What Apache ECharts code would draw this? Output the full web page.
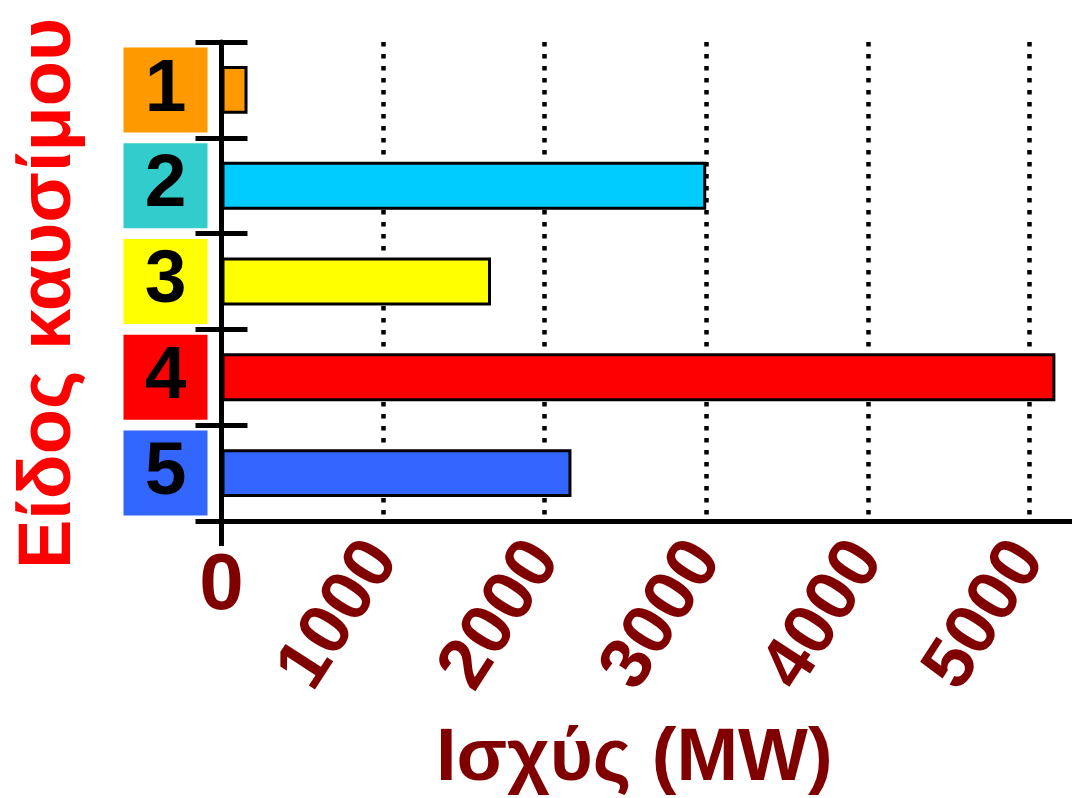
<!DOCTYPE html>
<html>
<head>
<meta charset="utf-8">
<script src="https://cdn.jsdelivr.net/npm/echarts@6/dist/echarts.min.js"></script>
<style>
  html, body { margin: 0; padding: 0; background: #fff; }
  #chart { width: 1072px; height: 798px; }
</style>
</head>
<body>
<div id="chart"></div>
<script>
// data
const categories = ['1', '2', '3', '4', '5'];
const values = [161, 3000, 1668, 5161, 2166];
const barColors = ['#FF9900', '#00CCFF', '#FFFF00', '#FF0000', '#3366FF'];
const labelColors = ['#FF9900', '#33CCCC', '#FFFF00', '#FF0000', '#3366FF'];
const xMax = 5400;

const font = 'Liberation Sans, Arial, sans-serif';
const darkRed = '#800000';

// one rich style per category box
const rich = {};
labelColors.forEach((c, i) => {
  rich['b' + i] = {
    backgroundColor: c,
    width: 84,
    height: 85,
    lineHeight: 85,
    align: 'center',
    color: '#000',
    fontSize: 75,
    fontWeight: 'bold',
    fontFamily: font
  };
});

const chart = echarts.init(document.getElementById('chart'));

chart.setOption({
  animation: false,
  grid: {
    left: 221.5, right: -22, top: 42, bottom: 277,
    containLabel: false,
    outerBoundsMode: 'none'
  },
  xAxis: [
    {
      type: 'value',
      min: 0,
      max: xMax,
      interval: 1000,
      position: 'bottom',
      name: 'Ισχύς (MW)',
      nameLocation: 'middle',
      nameGap: 202,
      nameTextStyle: {
        color: darkRed, fontSize: 74, fontWeight: 'bold', fontFamily: font,
        padding: [0, 47, 0, 0]
      },
      axisLine: { show: true, lineStyle: { color: '#000', width: 5 } },
      axisTick: { show: false },
      axisLabel: {
        rotate: 57,
        margin: 27,
        color: darkRed,
        fontSize: 72,
        fontWeight: 'bold',
        fontFamily: font,
        formatter: v => (v > 0 && v % 1000 === 0 ? String(v) : '')
      },
      splitLine: {
        show: true,
        lineStyle: { color: '#000', width: 4.5, type: [4.5, 7.5] }
      }
    },
    {
      // only the zero tick (continues the y axis line) and the upright "0"
      type: 'value',
      min: 0,
      max: xMax,
      interval: 10000,
      position: 'bottom',
      axisLine: { show: false },
      axisTick: { show: true, length: 25, lineStyle: { color: '#000', width: 5 } },
      axisLabel: {
        margin: 26,
        color: darkRed,
        fontSize: 80,
        fontWeight: 'bold',
        fontFamily: font,
        formatter: v => (v === 0 ? '0' : '')
      },
      splitLine: { show: false }
    }
  ],
  yAxis: [
    {
      type: 'category',
      data: categories,
      inverse: true,
      position: 'left',
      name: 'Είδος καυσίμου',
      nameLocation: 'middle',
      nameRotate: 90,
      nameGap: 135,
      nameTextStyle: {
        color: '#FF0000', fontSize: 74, fontWeight: 'bold', fontFamily: font,
        padding: [0, 24, 0, 0]
      },
      axisLine: { show: true, lineStyle: { color: '#000', width: 5 } },
      axisTick: { show: true, length: 26, lineStyle: { color: '#000', width: 5 } },
      axisLabel: {
        margin: 14,
        formatter: (v, i) => '{b' + i + '|' + v + '}',
        rich: rich
      }
    },
    {
      // inner half of the crossing ticks
      type: 'category',
      data: categories,
      inverse: true,
      position: 'left',
      axisLine: { show: false },
      axisTick: { show: true, inside: true, length: 26, lineStyle: { color: '#000', width: 5 } },
      axisLabel: { show: false }
    }
  ],
  series: [
    {
      type: 'bar',
      xAxisIndex: 0,
      yAxisIndex: 0,
      barWidth: '50%',
      data: values.map((v, i) => ({
        value: v,
        itemStyle: { color: barColors[i], borderColor: '#000', borderWidth: 3 }
      }))
    }
  ]
});
</script>
</body>
</html>
